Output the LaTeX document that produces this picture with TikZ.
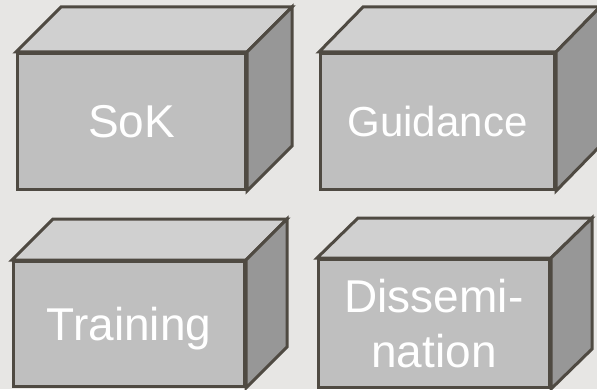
\documentclass[tikz,border=0pt]{standalone}
\usepackage{fontspec}
\setmainfont{Liberation Sans}
\usepackage{tikz}
\usetikzlibrary{positioning}
\definecolor{backdrop}{HTML}{E7E6E4}
\definecolor{edgegray}{HTML}{4F4A42}
\definecolor{frontgray}{HTML}{BFBFBF}
\definecolor{topgray}{HTML}{D0D0D0}
\definecolor{sidegray}{HTML}{979797}
\tikzset{
    block/.style={
           rectangle,
           draw=edgegray, line width=3pt,
           fill=frontgray,
           text=white,
           font=\fontsize{46}{55}\selectfont,
           align=center,
           inner sep=0pt,
           anchor=south west,
           },
    topface/.style={draw=edgegray, line width=3pt, fill=topgray},
    sideface/.style={draw=edgegray, line width=3pt, fill=sidegray},
}

\begin{document}
\begin{tikzpicture}[x=1pt,y=1pt]

 % background, fixes the size of the page
 \fill[backdrop] (0,0) rectangle (597,389);
 \useasboundingbox (0,0) rectangle (597,389);

 % front faces of the four blocks
 \node[block, minimum width=228pt, minimum height=136pt] (SOK) at (16,198) {SoK};
 \node[block, minimum width=234pt, minimum height=136pt,
  font=\fontsize{42}{50}\selectfont] (GUIDE) at (319,198) {Guidance};
 \node[block, minimum width=231pt, minimum height=125pt,
  text depth=0pt] (TRAIN) at (12,1) {Training};
 \node[block, minimum width=231pt, minimum height=128pt] (DISS) at (317,0)
  {Dissemi-\\nation};

 % top and side faces, pushed back by (dx,dy)
 \foreach \n/\dx/\dy in {SOK/45/45, GUIDE/44/45, TRAIN/41/41, DISS/41/40} {
  \draw[topface] (\n.north west) -- ++(\dx,\dy)
   -- ([shift={(\dx,\dy)}]\n.north east) -- (\n.north east) -- cycle;
  \draw[sideface] (\n.north east) -- ([shift={(\dx,\dy)}]\n.north east)
   -- ([shift={(\dx,\dy)}]\n.south east) -- (\n.south east) -- cycle;
 }

\end{tikzpicture}
\end{document}
